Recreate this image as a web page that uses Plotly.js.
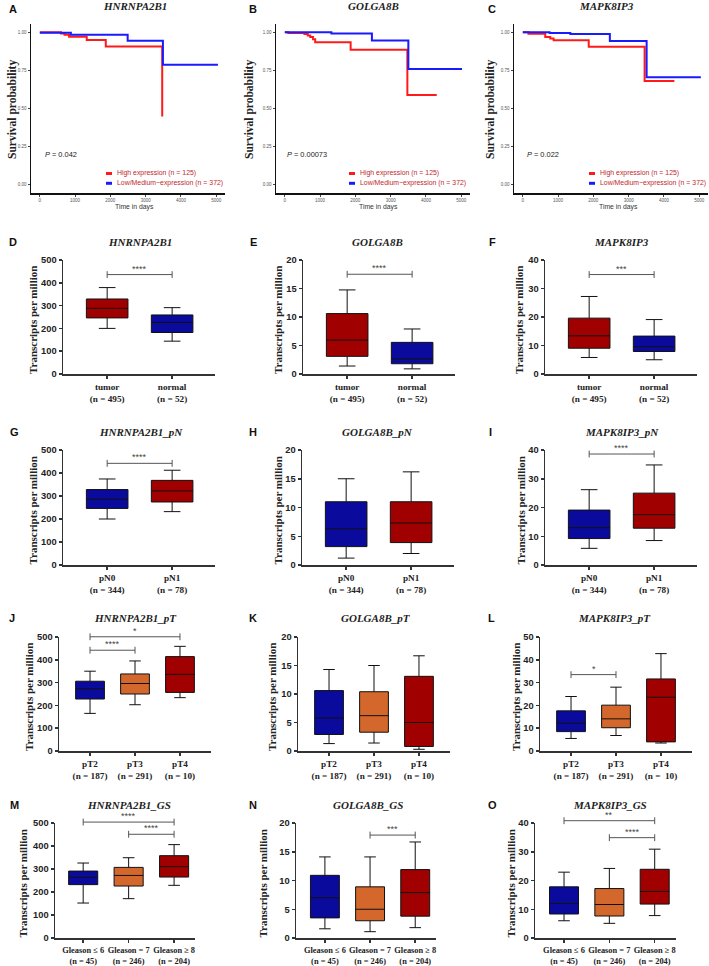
<!DOCTYPE html>
<html><head><meta charset="utf-8">
<script src="https://cdn.plot.ly/plotly-3.0.1.min.js"></script>
<style>html,body{margin:0;padding:0;background:#fff}</style>
</head><body><div id="chart"></div>
<script>
// ---------------- DATA ----------------
// Kaplan-Meier step points (time in days, survival probability)
const A_high_t = [0, 600, 700, 830, 1330, 1870, 3470];
const A_high_s = [1.0, 0.993, 0.985, 0.972, 0.95, 0.908, 0.448];
const A_low_t  = [0, 880, 2490, 3490, 5050];
const A_low_s  = [0.997, 0.985, 0.945, 0.788, 0.788];
const B_high_t = [0, 100, 555, 650, 720, 800, 861, 1866, 3474, 4306];
const B_high_s = [1.0, 0.996, 0.99, 0.98, 0.97, 0.955, 0.935, 0.886, 0.589, 0.589];
const B_low_t  = [0, 1320, 2469, 3502, 5024];
const B_low_s  = [1.0, 0.993, 0.947, 0.759, 0.759];
const C_high_t = [0, 160, 636, 778, 873, 1869, 3453, 4298];
const C_high_s = [1.0, 0.991, 0.97, 0.96, 0.948, 0.906, 0.681, 0.681];
const C_low_t  = [0, 760, 1347, 2467, 3510, 5047];
const C_low_s  = [1.0, 0.996, 0.989, 0.943, 0.705, 0.705];
const kmTicksX = [0, 1000, 2000, 3000, 4000, 5000];
const kmTicksY = [0, 0.25, 0.5, 0.75, 1.0];
const kmPvals  = ['0.042', '0.00073', '0.022'];
const kmLegend = ['High expression (n = 125)', 'Low/Medium\u2212expression (n = 372)'];

// Box plot categories
const catsTN = ['tumor<br>(n = 495)', 'normal<br>(n = 52)'];
const catsPN = ['pN0<br>(n = 344)', 'pN1<br>(n = 78)'];
const catsPT = ['pT2<br>(n = 187)', 'pT3<br>(n = 291)', 'pT4<br>(n = 10)'];
const catsPT2 = ['pT2<br>(n = 187)', 'pT3<br>(n = 291)', 'pT4<br>(n =  10)'];
const catsGS = ['Gleason \u2264 6<br>(n = 45)', 'Gleason = 7<br>(n = 246)', 'Gleason \u2265 8<br>(n = 204)'];

// Box statistics: lower whisker, Q1, median, Q3, upper whisker
const D_lo=[200,144], D_q1=[246,182], D_med=[288,226], D_q3=[329,259], D_hi=[379,291];
const E_lo=[1.4,0.9], E_q1=[3.1,1.8], E_med=[5.95,2.65], E_q3=[10.6,5.55], E_hi=[14.75,7.9];
const F_lo=[5.8,5.0], F_q1=[9.05,7.9], F_med=[13.4,9.6], F_q3=[19.6,13.3], F_hi=[27.2,19.1];
const G_lo=[200,232], G_q1=[246,274], G_med=[286,322], G_q3=[328,368], G_hi=[374,412];
const H_lo=[1.2,2.0], H_q1=[3.2,3.9], H_med=[6.3,7.3], H_q3=[11.0,11.0], H_hi=[15.0,16.2];
const I_lo=[5.8,8.5], I_q1=[9.2,12.8], I_med=[13.0,17.5], I_q3=[19.1,25.0], I_hi=[26.2,34.8];
const J_lo=[165,203,234], J_q1=[228,250,257], J_med=[273,296,336], J_q3=[306,338,414], J_hi=[350,395,459];
const K_lo=[1.3,1.4,0.3], K_q1=[2.9,3.3,0.8], K_med=[5.8,6.2,5.0], K_q3=[10.6,10.4,13.1], K_hi=[14.3,15.0,16.7];
const L_lo=[5.5,6.8,3.5], L_q1=[8.5,10.2,4.0], L_med=[12.2,14.1,23.6], L_q3=[17.6,20.1,31.6], L_hi=[23.9,28.0,42.7];
const M_lo=[152,171,229], M_q1=[232,226,265], M_med=[264,272,310], M_q3=[291,307,358], M_hi=[326,349,406];
const N_lo=[1.6,1.1,1.8], N_q1=[3.5,3.0,3.8], N_med=[7.0,5.0,7.9], N_q3=[10.9,8.9,11.9], N_hi=[14.1,14.1,16.7];
const O_lo=[6.0,5.1,7.8], O_q1=[8.35,7.65,11.8], O_med=[12.0,11.65,16.2], O_q3=[17.8,17.2,23.9], O_hi=[22.9,24.2,30.9];

// significance brackets: [from, to, height, label]
const D_sig=[[0,1,436,'****']];
const E_sig=[[0,1,17.5,'****']];
const F_sig=[[0,1,34.9,'***']];
const G_sig=[[0,1,442,'****']];
const I_sig=[[0,1,38.6,'****']];
const J_sig=[[0,2,501,'*'],[0,1,442,'****']];
const L_sig=[[0,1,33.5,'*']];
const M_sig=[[0,2,504,'****'],[1,2,451,'****']];
const N_sig=[[1,2,17.9,'***']];
const O_sig=[[0,2,40.8,'**'],[1,2,34.9,'****']];

// ---------------- DRAWING ----------------
const W=709, H=966;
const RED='#a00000', BLUE='#0a0a9c', ORANGE='#d4682c';
const SERIF='"Liberation Serif","Times New Roman",serif';
const SANS='"Liberation Sans",Arial,sans-serif';
const layout={width:W,height:H,margin:{l:0,r:0,t:0,b:0},showlegend:false,
  paper_bgcolor:'#fff',plot_bgcolor:'rgba(0,0,0,0)',annotations:[],shapes:[]};
const traces=[];
let axN=0;
function addAxes(xpx,ypx,xopt,yopt){
  axN++;
  const sfx = axN===1?'':String(axN);
  layout['xaxis'+sfx]=Object.assign({domain:[xpx[0]/W,xpx[1]/W],anchor:'y'+sfx,showgrid:false,zeroline:false,fixedrange:true},xopt);
  layout['yaxis'+sfx]=Object.assign({domain:[1-ypx[1]/H,1-ypx[0]/H],anchor:'x'+sfx,showgrid:false,zeroline:false,fixedrange:true},yopt);
  return {x:'x'+sfx,y:'y'+sfx};
}
function ann(text,px,py,opt){
  layout.annotations.push(Object.assign({text:text,x:px/W,y:1-py/H,xref:'paper',yref:'paper',showarrow:false,xanchor:'center',yanchor:'middle'},opt));
}

function kmPanel(xpx,hi_t,hi_s,lo_t,lo_s,p,o){
  const ax=addAxes(xpx,[24,193],
    {range:[-250,5250],tickvals:kmTicksX,showline:true,linecolor:'#111',linewidth:1.5,ticks:'outside',ticklen:2,tickwidth:1,tickcolor:'#444',
     tickfont:{family:SANS,size:4.5,color:'#555'}},
    {range:[-0.055,1.055],tickvals:kmTicksY,tickformat:'.2f',showline:true,linecolor:'#111',linewidth:1.5,ticks:'outside',ticklen:2,tickwidth:1,tickcolor:'#444',
     tickfont:{family:SANS,size:4.5,color:'#555'}});
  traces.push({type:'scatter',mode:'lines',x:hi_t,y:hi_s,line:{shape:'hv',color:'#ff1a1a',width:2},xaxis:ax.x,yaxis:ax.y,hoverinfo:'skip'});
  traces.push({type:'scatter',mode:'lines',x:lo_t,y:lo_s,line:{shape:'hv',color:'#1a1aff',width:2},xaxis:ax.x,yaxis:ax.y,hoverinfo:'skip'});
  const kx=o.keyX;
  [[173.5,'#ff1a1a'],[183.3,'#1a1aff']].forEach(function(k,i){
    layout.shapes.push({type:'line',xref:'paper',yref:'paper',x0:kx/W,x1:(kx+6)/W,y0:1-k[0]/H,y1:1-k[0]/H,line:{color:k[1],width:3}});
    ann(kmLegend[i],kx+9,k[0],{xanchor:'left',font:{family:SANS,size:6.9,color:'#c0282c'}});
  });
  ann('<i>P</i> = '+p,o.pX,154.5,{xanchor:'left',font:{family:SANS,size:7.4,color:'#222'}});
  ann('Time in days',o.timeX,207,{font:{family:SANS,size:6.8,color:'#333'}});
  ann('Survival probability',o.ylabX,110,{textangle:-90,font:{family:SERIF,size:11.5,color:'#222',weight:'bold'}});
  ann(o.title,o.titleX,6,{font:{family:SERIF,size:11,color:'#222',weight:'bold',style:'italic'}});
  ann(o.letter,o.letterX,9,{font:{family:SANS,size:11,color:'#111',weight:'bold'}});
}

function boxPanel(xpx,ypx,xr,yr,dtick,cats,lo,q1,med,q3,hi,colors,sig,o){
  const cfs=o.catSize||9.2;
  const ax=addAxes(xpx,ypx,
    {range:xr,tickvals:cats.map(function(c,i){return i;}),ticktext:cats,tickangle:0,showline:true,linecolor:'#333',linewidth:1.5,ticks:'outside',ticklen:3,tickwidth:1.5,tickcolor:'#333',
     ticklabelstandoff:o.catStandoff||0,tickfont:{family:SERIF,size:cfs,color:'#222',weight:'bold'}},
    {range:yr,dtick:dtick,tick0:0,showline:true,linecolor:'#333',linewidth:1.5,ticks:'outside',ticklen:3,tickwidth:1.5,tickcolor:'#333',
     tickfont:{family:SANS,size:9.3,color:'#222',weight:'bold'}});
  cats.forEach(function(c,i){
    traces.push({type:'box',x:[i],q1:[q1[i]],median:[med[i]],q3:[q3[i]],lowerfence:[lo[i]],upperfence:[hi[i]],
      fillcolor:colors[i],line:{color:'#111',width:1},whiskerwidth:0.4,width:0.64,boxpoints:false,
      xaxis:ax.x,yaxis:ax.y,hoverinfo:'skip'});
  });
  if(sig){
    // hidden companion axes sharing the same data scale, extended upward so brackets above the top tick are not clipped
    const ext=30, hpx=ypx[1]-ypx[0], span=yr[1]-yr[0];
    const bx=addAxes(xpx,[ypx[0]-ext,ypx[1]],{range:xr,visible:false},{range:[yr[0],yr[1]+ext/hpx*span],visible:false});
    const d=span*0.03;
    sig.forEach(function(s){
      traces.push({type:'scatter',mode:'lines',x:[s[0],s[0],null,s[0],s[1],null,s[1],s[1]],y:[s[2]-d,s[2]+d,null,s[2],s[2],null,s[2]-d,s[2]+d],
        line:{color:'#555',width:1},xaxis:bx.x,yaxis:bx.y,hoverinfo:'skip'});
      layout.annotations.push({text:s[3],x:(s[0]+s[1])/2,y:s[2],xref:bx.x,yref:bx.y,showarrow:false,yanchor:'bottom',yshift:-1,
        font:{family:SANS,size:9,color:'#444'}});
    });
  }
  ann('Transcripts per million',o.ylabX,(ypx[0]+ypx[1])/2+3,{textangle:-90,font:{family:SERIF,size:11,color:'#222',weight:'bold'}});
  ann(o.title,o.titleX,o.titleY,{font:{family:SERIF,size:11,color:'#222',weight:'bold',style:'italic'}});
  ann(o.letter,o.letterX,o.titleY,{font:{family:SANS,size:11,color:'#111',weight:'bold'}});
}

// Row 1: survival
kmPanel([31,225],A_high_t,A_high_s,A_low_t,A_low_s,kmPvals[0],{keyX:106,pX:43,timeX:134,ylabX:12,title:'HNRNPA2B1',titleX:135,letter:'A',letterX:13});
kmPanel([276,470],B_high_t,B_high_s,B_low_t,B_low_s,kmPvals[1],{keyX:349,pX:285,timeX:379,ylabX:249,title:'GOLGA8B',titleX:374,letter:'B',letterX:253});
kmPanel([514,708],C_high_t,C_high_s,C_low_t,C_low_s,kmPvals[2],{keyX:589,pX:525,timeX:618,ylabX:490,title:'MAPK8IP3',titleX:606,letter:'C',letterX:492});

const r2=[260,374], r3=[450,565], r4=[637,751], r5=[823,938];
const X2=[-0.68,1.66], X3=[-0.69,2.69];
// Row 2
boxPanel([63,215],r2,X2,[0,500],100,catsTN,D_lo,D_q1,D_med,D_q3,D_hi,[RED,BLUE],D_sig,{ylabX:33,title:'HNRNPA2B1',titleX:140,titleY:242,letter:'D',letterX:13});
boxPanel([303,455],r2,X2,[0,20],5,catsTN,E_lo,E_q1,E_med,E_q3,E_hi,[RED,BLUE],E_sig,{ylabX:278,title:'GOLGA8B',titleX:378,titleY:242,letter:'E',letterX:253});
boxPanel([545,697],r2,X2,[0,40],10,catsTN,F_lo,F_q1,F_med,F_q3,F_hi,[RED,BLUE],F_sig,{ylabX:519,title:'MAPK8IP3',titleX:621,titleY:242,letter:'F',letterX:492});
// Row 3
boxPanel([63,215],r3,X2,[0,500],100,catsPN,G_lo,G_q1,G_med,G_q3,G_hi,[BLUE,RED],G_sig,{ylabX:33,title:'HNRNPA2B1_pN',titleX:141,titleY:432,letter:'G',letterX:15});
boxPanel([302,454],r3,X2,[0,20],5,catsPN,H_lo,H_q1,H_med,H_q3,H_hi,[BLUE,RED],null,{ylabX:278,title:'GOLGA8B_pN',titleX:378,titleY:432,letter:'H',letterX:253});
boxPanel([545,697],r3,X2,[0,40],10,catsPN,I_lo,I_q1,I_med,I_q3,I_hi,[BLUE,RED],I_sig,{ylabX:521,title:'MAPK8IP3_pN',titleX:622,titleY:432,letter:'I',letterX:490});
// Row 4
boxPanel([59,211],r4,X3,[0,500],100,catsPT,J_lo,J_q1,J_med,J_q3,J_hi,[BLUE,ORANGE,RED],J_sig,{ylabX:29,title:'HNRNPA2B1_pT',titleX:135,titleY:618,letter:'J',letterX:12});
boxPanel([298,450],r4,X3,[0,20],5,catsPT,K_lo,K_q1,K_med,K_q3,K_hi,[BLUE,ORANGE,RED],null,{ylabX:272,title:'GOLGA8B_pT',titleX:376,titleY:618,letter:'K',letterX:253});
boxPanel([540,692],r4,X3,[0,50],10,catsPT2,L_lo,L_q1,L_med,L_q3,L_hi,[BLUE,ORANGE,RED],L_sig,{ylabX:516,title:'MAPK8IP3_pT',titleX:614,titleY:618,letter:'L',letterX:491});
// Row 5
const gsOpt={catSize:8.4};
boxPanel([55,195],r5,[-0.62,2.46],[0,500],100,catsGS,M_lo,M_q1,M_med,M_q3,M_hi,[BLUE,ORANGE,RED],M_sig,Object.assign({ylabX:22,title:'HNRNPA2B1_GS',titleX:129,titleY:805,letter:'M',letterX:14},gsOpt));
boxPanel([296,436],r5,[-0.64,2.46],[0,20],5,catsGS,N_lo,N_q1,N_med,N_q3,N_hi,[BLUE,ORANGE,RED],N_sig,Object.assign({ylabX:262,title:'GOLGA8B_GS',titleX:368,titleY:805,letter:'N',letterX:253},gsOpt));
boxPanel([535,676],r5,[-0.64,2.47],[0,40],10,catsGS,O_lo,O_q1,O_med,O_q3,O_hi,[BLUE,ORANGE,RED],O_sig,Object.assign({ylabX:510,title:'MAPK8IP3_GS',titleX:610,titleY:805,letter:'O',letterX:492},gsOpt));

Plotly.newPlot('chart',traces,layout,{staticPlot:true,displayModeBar:false});
</script></body></html>
